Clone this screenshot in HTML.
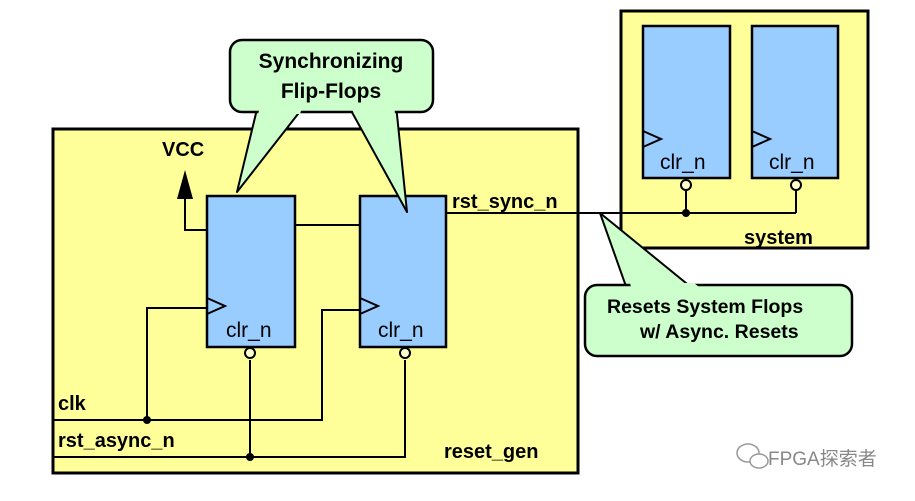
<!DOCTYPE html>
<html><head><meta charset="utf-8"><style>
html,body{margin:0;padding:0;background:#fff;}
svg text{font-family:"Liberation Sans",Arial,sans-serif;}
</style></head><body>
<svg width="915" height="496" viewBox="0 0 915 496" xmlns="http://www.w3.org/2000/svg">
<rect x="53" y="129" width="525" height="344" fill="#ffff99" stroke="#000" stroke-width="3"/>
<rect x="621" y="11" width="247" height="237" fill="#ffff99" stroke="#000" stroke-width="3"/>

<g stroke="#000" stroke-width="2" fill="none">
<polyline points="185,198 185,230 207,230"/>
<line x1="295" y1="225" x2="360" y2="225"/>
<line x1="446" y1="213" x2="796" y2="213"/>
<line x1="686" y1="190" x2="686" y2="213"/>
<polyline points="796,190 796,213"/>
<polyline points="53,420 322,420 322,310 360,310"/>
<polyline points="147,420 147,308 207,308"/>
<polyline points="53,457 405,457 405,360"/>
<line x1="250" y1="360" x2="250" y2="457"/>
</g>
<polygon points="185,170 177,199 193,199" fill="#000"/>
<circle cx="147" cy="420" r="4" fill="#000"/>
<circle cx="250" cy="457" r="4" fill="#000"/>
<circle cx="686" cy="213" r="4" fill="#000"/>

<g stroke="#000" stroke-width="2.5" fill="#99ccff">
<rect x="207" y="196" width="88" height="151"/>
<rect x="360" y="196" width="86" height="151"/>
<rect x="643" y="26" width="87" height="152"/>
<rect x="752" y="26" width="86" height="152"/>
</g>
<g stroke="#000" stroke-width="2" fill="none">
<polyline points="207,298 225,306 207,314"/>
<polyline points="360,298 378,306 360,314"/>
<polyline points="643,131 661,139 643,147"/>
<polyline points="752,131 770,139 752,147"/>
</g>
<g stroke="#000" stroke-width="2" fill="#ffffcc">
<circle cx="250" cy="353" r="5"/>
<circle cx="405" cy="353" r="5"/>
<circle cx="686" cy="185" r="5"/>
<circle cx="796" cy="185" r="5"/>
</g>
<g font-size="21" fill="#000">
<text x="226" y="337">clr_n</text>
<text x="378" y="337">clr_n</text>
<text x="660" y="169">clr_n</text>
<text x="769" y="169">clr_n</text>
</g>

<!-- top callout -->
<polygon points="258,105 237,192 305,105" fill="#ccffcc" stroke="#000" stroke-width="2" stroke-linejoin="round"/>
<polygon points="348,105 407,212 396,105" fill="#ccffcc" stroke="#000" stroke-width="2" stroke-linejoin="round"/>
<rect x="230" y="40" width="203" height="72" rx="12" fill="#ccffcc" stroke="#000" stroke-width="2.5"/>
<polygon points="261,104 303,104 300,114 258,114" fill="#ccffcc"/>
<polygon points="350,104 394,104 395,114 354,114" fill="#ccffcc"/>
<g font-size="21" font-weight="bold" fill="#000" text-anchor="middle">
<text x="331" y="68">Synchronizing</text>
<text x="331" y="98">Flip-Flops</text>
</g>

<!-- bottom callout -->
<polygon points="628,292 600,213 697,292" fill="#ccffcc" stroke="#000" stroke-width="2" stroke-linejoin="round"/>
<rect x="585" y="285" width="267" height="71" rx="12" fill="#ccffcc" stroke="#000" stroke-width="2.5"/>
<polygon points="630,283 694,283 704,291 632,291" fill="#ccffcc"/>
<g font-size="19.5" font-weight="bold" fill="#000">
<text x="607" y="313">Resets System Flops</text>
<text x="640" y="338">w/ Async. Resets</text>
</g>

<g font-size="20" font-weight="bold" fill="#000">
<text x="162" y="156">VCC</text>
<text x="452" y="208">rst_sync_n</text>
<text x="58" y="410">clk</text>
<text x="58" y="447">rst_async_n</text>
<text x="444" y="458">reset_gen</text>
<text x="744" y="244">system</text>
</g>

<g stroke="#999" stroke-width="1.5" fill="#fff">
<ellipse cx="748" cy="453" rx="11" ry="9"/>
<ellipse cx="759" cy="461" rx="9" ry="7"/>
</g>
<text x="768" y="465" font-size="19" fill="#888" font-family="Liberation Sans, Noto Sans CJK SC, sans-serif">FPGA探索者</text>
</svg>
</body></html>
